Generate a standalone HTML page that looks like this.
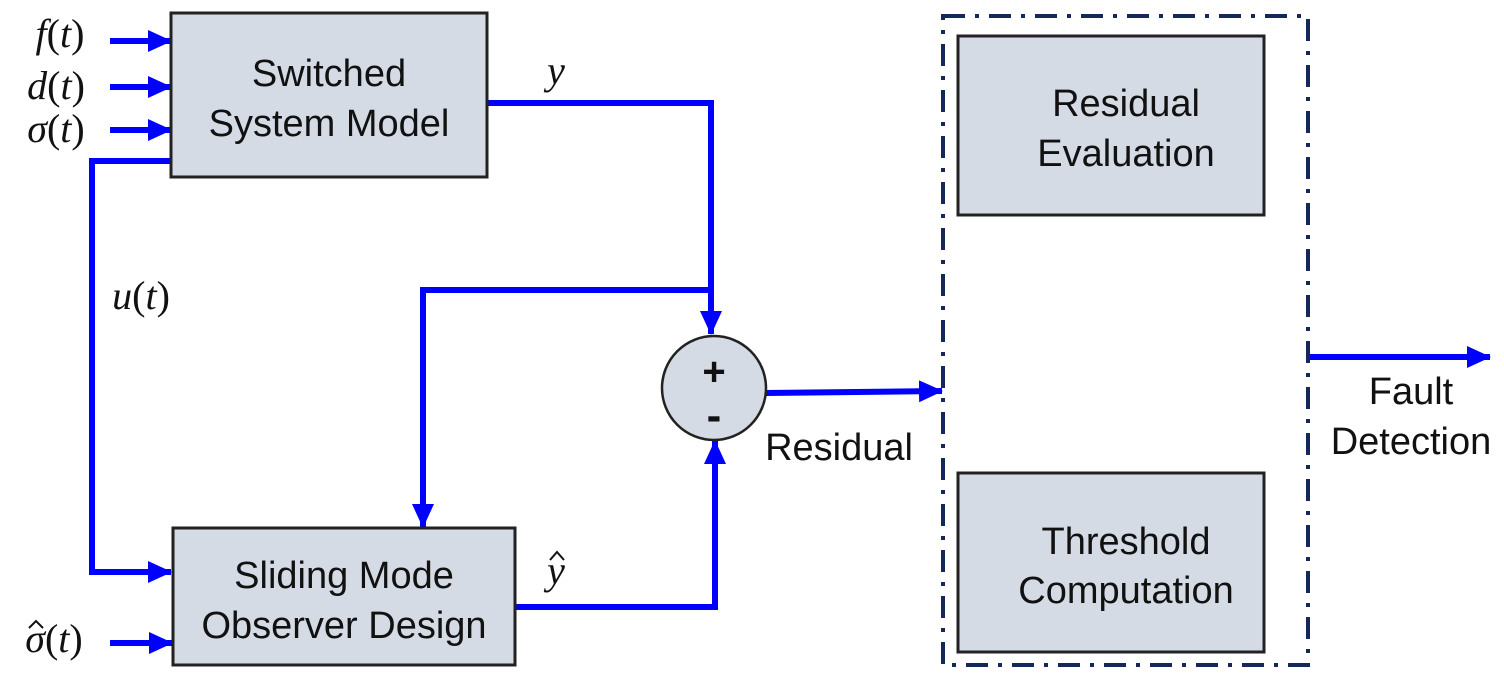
<!DOCTYPE html>
<html><head><style>body{margin:0;background:#fff}</style></head><body>
<svg width="1504" height="681" xmlns="http://www.w3.org/2000/svg" font-family="Liberation Sans, sans-serif">
<defs>
<marker id="b" markerWidth="24" markerHeight="22" refX="23" refY="11" orient="auto" markerUnits="userSpaceOnUse"><path d="M0,0 L24,11 L0,22z" fill="#0000ff"/></marker></defs>
<g stroke="#0000ff" stroke-width="6" fill="none">
<line x1="110" y1="41" x2="171" y2="41" marker-end="url(#b)"/>
<line x1="110" y1="87" x2="171" y2="87" marker-end="url(#b)"/>
<line x1="110" y1="130" x2="171" y2="130" marker-end="url(#b)"/>
<polyline points="171,161 92,161 92,572 171,572" marker-end="url(#b)"/>
<line x1="110" y1="643" x2="172" y2="643" marker-end="url(#b)"/>
<polyline points="487,103 711,103 711,334" marker-end="url(#b)"/>
<polyline points="711,290 423,290 423,527" marker-end="url(#b)"/>
<polyline points="515,607 715,607 715,441" marker-end="url(#b)"/>
<line x1="766" y1="393" x2="942" y2="391" marker-end="url(#b)"/>
<line x1="1310" y1="357" x2="1490" y2="357" marker-end="url(#b)"/>
</g>
<rect x="943" y="16" width="365" height="649" fill="none" stroke="#14285a" stroke-width="4" stroke-dasharray="22,10,4,10"/>
<g fill="#d5dbe5" stroke="#222" stroke-width="3">
<rect x="171" y="13" width="316" height="164"/>
<rect x="173" y="528" width="342" height="137"/>
<rect x="958" y="36" width="306" height="179"/>
<rect x="958" y="473" width="306" height="179"/>
<circle cx="714" cy="388" r="52" stroke-width="2.5"/>
</g>
<g font-size="38" text-anchor="middle" fill="#111">
<text x="329" y="86">Switched</text><text x="329" y="136">System Model</text>
<text x="344" y="588">Sliding Mode</text><text x="344" y="638">Observer Design</text>
<text x="1126" y="116">Residual</text><text x="1126" y="166">Evaluation</text>
<text x="1126" y="554">Threshold</text><text x="1126" y="603">Computation</text>
<text x="1411" y="404">Fault</text><text x="1411" y="454">Detection</text>
<text x="839" y="460">Residual</text>
<text x="714" y="385" font-weight="bold" font-size="40">+</text>
<text x="714" y="430" font-weight="bold" font-size="44">-</text>
</g>
<g font-family="Liberation Serif, serif" font-size="40" fill="#111" text-anchor="middle">
<text x="60" y="47"><tspan font-style="italic">f</tspan>(<tspan font-style="italic">t</tspan>)</text>
<text x="56" y="99"><tspan font-style="italic">d</tspan>(<tspan font-style="italic">t</tspan>)</text>
<text x="56" y="142"><tspan font-style="italic">σ</tspan>(<tspan font-style="italic">t</tspan>)</text>
<text x="141" y="309"><tspan font-style="italic">u</tspan>(<tspan font-style="italic">t</tspan>)</text>
<text x="54" y="652"><tspan font-style="italic">σ</tspan>(<tspan font-style="italic">t</tspan>)</text>
<text x="556" y="584" font-style="italic">y</text>
<text x="556" y="84" font-style="italic">y</text>
</g>
<g stroke="#111" stroke-width="2" fill="none">
<path d="M29,628 L36,621 L43,628"/>
<path d="M550,560 L557,552 L564,560"/>
</g>
</svg>
</body></html>
